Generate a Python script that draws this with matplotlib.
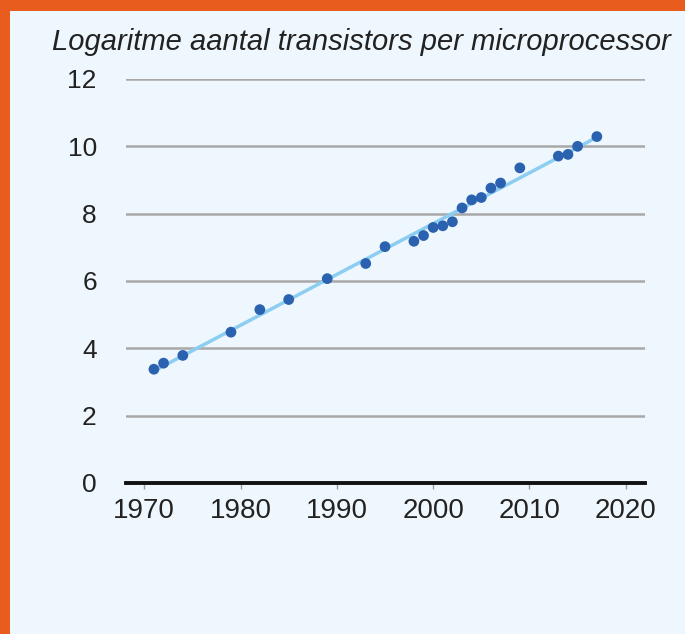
import numpy as np
import matplotlib
matplotlib.use("Agg")
import matplotlib.pyplot as plt

plt.rcParams['font.family'] = ['Liberation Sans', 'DejaVu Sans']

years = [1971, 1972, 1974, 1979, 1982, 1985, 1989, 1993, 1995, 1998, 1999,
         2000, 2001, 2002, 2003, 2004, 2005, 2006, 2007, 2009, 2013, 2014,
         2015, 2017]
log_transistors = [3.38, 3.56, 3.79, 4.48, 5.15, 5.45, 6.07, 6.52, 7.02, 7.18,
                   7.35, 7.59, 7.64, 7.76, 8.17, 8.41, 8.48, 8.76, 8.91, 9.36,
                   9.71, 9.76, 10.0, 10.29]
x_ticks = [1970, 1980, 1990, 2000, 2010, 2020]
y_ticks = [0, 2, 4, 6, 8, 10, 12]
title = "Logaritme aantal transistors per microprocessor"

bg = '#eef7fe'
orange = '#e85d1e'

fig = plt.figure(figsize=(6.85, 6.34), dpi=100)
fig.patch.set_facecolor(orange)

# light panel inside the orange frame
panel = fig.add_axes([10 / 685, 0, 1 - 10 / 685, 1 - 11 / 634])
panel.axis('off')
panel.add_patch(plt.Rectangle((0, 0), 1, 1, transform=panel.transAxes,
                              facecolor=bg, edgecolor='none'))

ax = fig.add_axes([126 / 685, 1 - 483 / 634, 519 / 685, 404 / 634])
ax.set_facecolor(bg)

# trendline through the points
coef = np.polyfit(years, log_transistors, 1)
trend_x = np.array([years[0] + 0.4, years[-1]])
ax.plot(trend_x, np.polyval(coef, trend_x), color='#8ccdf2', lw=2.5, zorder=2)
ax.scatter(years, log_transistors, s=60, color='#2b62b0', zorder=3, edgecolors='none')

ax.set_xlim(1968.1, 2022)
ax.set_ylim(0, 12)
ax.set_xticks(x_ticks)
ax.set_yticks(y_ticks)
ax.yaxis.grid(True, color='#a8a8a8', lw=1.8)
ax.set_axisbelow(True)
for s in ['top', 'right', 'left']:
    ax.spines[s].set_visible(False)
ax.spines['bottom'].set_color('#111111')
ax.spines['bottom'].set_linewidth(2.8)
ax.spines['bottom'].set_zorder(4)
ax.tick_params(axis='y', length=0, pad=21, labelsize=19, labelcolor='#222222')
ax.tick_params(axis='x', length=4, width=1, color='#999999', pad=7,
               labelsize=20, labelcolor='#222222')

fig.text(52 / 685, 1 - 42 / 634, title, fontsize=21, style='italic',
         color='#222222', va='center', ha='left')

fig.savefig('out.png', dpi=100, facecolor=fig.get_facecolor())
